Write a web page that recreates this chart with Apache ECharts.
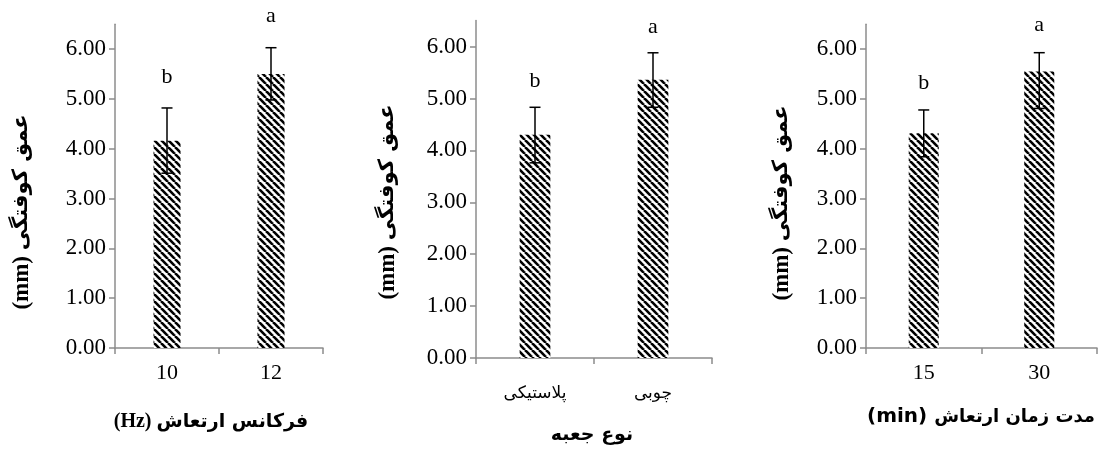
<!DOCTYPE html>
<html><head><meta charset="utf-8">
<script src="https://cdn.jsdelivr.net/npm/echarts@6/dist/echarts.min.js"></script>
<style>html,body{margin:0;padding:0;background:#fff}#c{width:1099px;height:450px}</style>
</head><body><div id="c"></div>
<script>
// ---- data ----
const yTicks = [0, 1, 2, 3, 4, 5, 6];
const cats1 = ['10', '12'];
const vals1 = [4.16, 5.50];
const lo1 = [3.51, 4.98];
const hi1 = [4.82, 6.03];
const let1 = ['b', 'a'];

const cats2 = ['پلاستیکی', 'چوبی'];
const vals2 = [4.30, 5.36];
const lo2 = [3.76, 4.83];
const hi2 = [4.83, 5.88];
const let2 = ['b', 'a'];

const cats3 = ['15', '30'];
const vals3 = [4.31, 5.55];
const lo3 = [3.84, 4.81];
const hi3 = [4.78, 5.93];
const let3 = ['b', 'a'];

const yTitle = 'عمق کوفتگی';
const xTitle1 = 'فرکانس ارتعاش';
const xTitle2 = 'نوع جعبه';
const xTitle3 = 'مدت زمان ارتعاش';

// ---- stripe pattern ----
function stripes() {
  const n = 7, cv = document.createElement('canvas');
  cv.width = n; cv.height = n;
  const g = cv.getContext('2d');
  g.fillStyle = '#fff'; g.fillRect(0, 0, n, n);
  g.strokeStyle = '#000'; g.lineWidth = 2.6;
  for (const x0 of [-n, 0, n]) { g.beginPath(); g.moveTo(x0, 0); g.lineTo(x0 + n, n); g.stroke(); }
  return cv;
}
const pat = { image: stripes(), repeat: 'repeat' };

const serif = '"Liberation Serif", "Times New Roman", serif';
const arab = '"DejaVu Sans", sans-serif';
const axisGray = '#8c8c8c';

const grids = [
  { left: 115, top: 24.3, width: 208, height: 323.7 },
  { left: 476, top: 20.6, width: 236, height: 337.4 },
  { left: 866, top: 24.3, width: 231, height: 323.7 }
];
const catsAll = [cats1, cats2, cats3];
const valsAll = [vals1, vals2, vals3];
const loAll = [lo1, lo2, lo3];
const hiAll = [hi1, hi2, hi3];
const letAll = [let1, let2, let3];
const letGap = [31, 26, 27];

const xAxes = [], yAxes = [], series = [];
for (let i = 0; i < 3; i++) {
  xAxes.push({
    type: 'category', gridIndex: i, data: catsAll[i],
    axisLine: { lineStyle: { color: axisGray, width: 1.5 } },
    axisTick: { show: true, length: 6, lineStyle: { color: axisGray, width: 1.5 } },
    axisLabel: i === 1
      ? { color: '#000', fontSize: 17, fontFamily: arab, margin: 27 }
      : { color: '#000', fontSize: 22, fontFamily: serif, margin: 14 }
  });
  yAxes.push({
    type: 'value', gridIndex: i, min: 0, max: 6.5,
    splitLine: { show: false },
    axisLine: { show: true, lineStyle: { color: axisGray, width: 1.5 } },
    axisTick: { show: true, length: 6, customValues: yTicks, lineStyle: { color: axisGray, width: 1.5 } },
    axisLabel: { customValues: yTicks, color: '#000', fontSize: 23, fontFamily: serif, margin: 9,
      formatter: v => v.toFixed(2) }
  });
  series.push({
    type: 'bar', xAxisIndex: i, yAxisIndex: i, barWidth: '26%',
    data: valsAll[i], itemStyle: { color: pat }, silent: true
  });
  const lo = loAll[i], hi = hiAll[i], lets = letAll[i], gap = letGap[i];
  series.push({
    type: 'custom', xAxisIndex: i, yAxisIndex: i, z: 5, silent: true,
    data: lo.map((l, k) => [k, l, hi[k]]),
    renderItem: (params, api) => {
      const p1 = api.coord([api.value(0), api.value(1)]);
      const p2 = api.coord([api.value(0), api.value(2)]);
      const x = p1[0], hw = 5.5;
      const st = { stroke: '#000', lineWidth: 1.5 };
      return { type: 'group', children: [
        { type: 'line', shape: { x1: x, y1: p1[1], x2: x, y2: p2[1] }, style: st },
        { type: 'line', shape: { x1: x - hw, y1: p1[1], x2: x + hw, y2: p1[1] }, style: st },
        { type: 'line', shape: { x1: x - hw, y1: p2[1], x2: x + hw, y2: p2[1] }, style: st },
        { type: 'text', x: x, y: p2[1] - gap, style: { text: lets[params.dataIndex], fill: '#000',
          font: '22px ' + serif, textAlign: 'center', textVerticalAlign: 'middle' } }
      ]};
    }
  });
}

function yTitleEl(x, y) {
  return { type: 'text', x: x, y: y, rotation: Math.PI / 2,
    style: { text: '{a|(mm) }{b|' + yTitle + '}', align: 'center', verticalAlign: 'middle',
      rich: { a: { fontFamily: serif, fontWeight: 'bold', fontSize: 23, color: '#000' },
              b: { fontFamily: arab, fontWeight: 'bold', fontSize: 21, color: '#000' } } } };
}
function xTitleEl(x, y, unit, unitFont, title, size) {
  const rich = { b: { fontFamily: arab, fontWeight: 'bold', fontSize: size, color: '#000' } };
  let text = '{b|' + title + '}';
  if (unit) {
    rich.a = { fontFamily: unitFont, fontWeight: 'bold', fontSize: 20, color: '#000' };
    text = '{a|' + unit + ' }' + text;
  }
  return { type: 'text', x: x, y: y, style: { text: text, align: 'center', verticalAlign: 'middle', rich: rich } };
}

const chart = echarts.init(document.getElementById('c'));
chart.setOption({
  animation: false,
  backgroundColor: '#fff',
  grid: grids,
  xAxis: xAxes,
  yAxis: yAxes,
  series: series,
  graphic: [
    yTitleEl(22, 212), yTitleEl(388, 202), yTitleEl(782, 203),
    xTitleEl(211, 422, '(Hz)', serif, xTitle1, 19),
    xTitleEl(592, 435, null, null, xTitle2, 19),
    xTitleEl(981, 417, '(min)', arab, xTitle3, 18)
  ]
});
</script></body></html>
